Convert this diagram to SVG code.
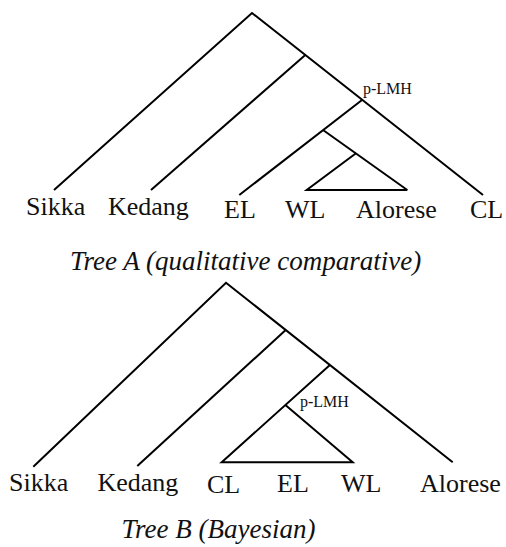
<svg xmlns="http://www.w3.org/2000/svg" width="506" height="547" viewBox="0 0 506 547">
<style>
  .e { stroke: #000; stroke-width: 2; fill: none; stroke-linecap: butt; stroke-linejoin: miter; }
  text { font-family: 'Liberation Serif', 'DejaVu Serif', Times, serif; fill: #111; }
  .lbl { font-size: 26px; }
  .sm { font-size: 16px; }
  .cap { font-size: 27px; font-style: italic; }
</style>
<rect width="506" height="547" fill="#fff"/>
<g id="connectors">
  <polyline class="e" points="54,190 252,13 483,195"/>
  <line class="e" x1="305.3" y1="55" x2="151" y2="190"/>
  <line class="e" x1="362" y1="100" x2="239.3" y2="195"/>
  <line class="e" x1="323" y1="130" x2="407.3" y2="190"/>
  <polyline class="e" points="356,153.3 306.7,190 407.3,190"/>
  <polyline class="e" points="33.3,466.7 226,282.7 452.7,462.3"/>
  <line class="e" x1="285.7" y1="330" x2="137.3" y2="466"/>
  <polyline class="e" points="329.9,365 221.7,462.3 352.7,462.3 285.4,405"/>
</g>
<g id="treeA">
  <g id="a-sikka"><text class="lbl" x="26" y="215" font-family="Liberation Serif, serif">Sikka</text></g>
  <g id="a-kedang"><text class="lbl" x="108" y="215" font-family="Liberation Serif, serif">Kedang</text></g>
  <g id="a-el"><text class="lbl" x="224" y="218" font-family="Liberation Serif, serif">EL</text></g>
  <g id="a-wl"><text class="lbl" x="285" y="218" font-family="Liberation Serif, serif">WL</text></g>
  <g id="a-alorese"><text class="lbl" x="356" y="218" font-family="Liberation Serif, serif">Alorese</text></g>
  <g id="a-cl"><text class="lbl" x="470" y="218" font-family="Liberation Serif, serif">CL</text></g>
  <g id="a-plmh"><text class="sm" x="363" y="94" font-family="Liberation Serif, serif">p-LMH</text></g>
  <g id="a-caption"><text class="cap" x="70" y="270" font-family="Liberation Serif, serif">Tree A (qualitative comparative)</text></g>
</g>
<g id="treeB">
  <g id="b-sikka"><text class="lbl" x="9" y="491" font-family="Liberation Serif, serif">Sikka</text></g>
  <g id="b-kedang"><text class="lbl" x="97.5" y="491" font-family="Liberation Serif, serif">Kedang</text></g>
  <g id="b-cl"><text class="lbl" x="207" y="492.5" font-family="Liberation Serif, serif">CL</text></g>
  <g id="b-el"><text class="lbl" x="277" y="492" font-family="Liberation Serif, serif">EL</text></g>
  <g id="b-wl"><text class="lbl" x="341" y="492" font-family="Liberation Serif, serif">WL</text></g>
  <g id="b-alorese"><text class="lbl" x="420" y="492" font-family="Liberation Serif, serif">Alorese</text></g>
  <g id="b-plmh"><text class="sm" x="300" y="407" font-family="Liberation Serif, serif">p-LMH</text></g>
  <g id="b-caption"><text class="cap" x="121.5" y="538" font-family="Liberation Serif, serif">Tree B (Bayesian)</text></g>
</g>
</svg>
